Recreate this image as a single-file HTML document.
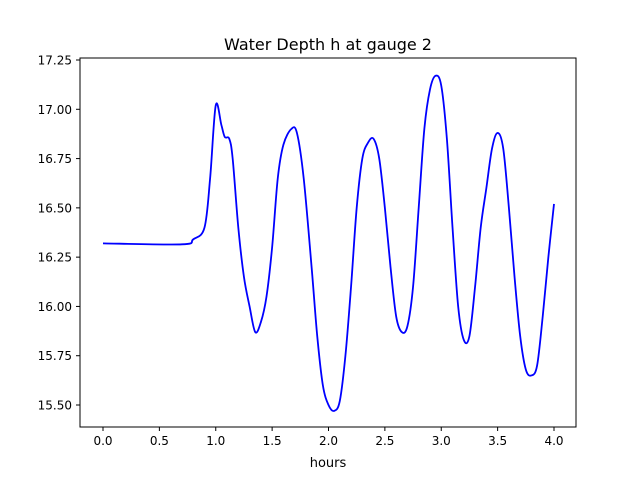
<!DOCTYPE html>
<html><head><meta charset="utf-8"><style>
body{margin:0;background:#fff;font-family:"Liberation Sans","DejaVu Sans",sans-serif;}
svg text{font-family:"DejaVu Sans","Liberation Sans",sans-serif;}
</style></head><body>
<svg id="chart" width="640" height="480" xmlns="http://www.w3.org/2000/svg">
<rect width="640" height="480" fill="#fff"/>
<text x="328" y="50" font-size="16" text-anchor="middle">Water Depth h at gauge 2</text>
<g id="ticks"></g>
<path id="line" fill="none" stroke="#0000ff" stroke-width="1.8" stroke-linejoin="round"/>
<rect x="80" y="58" width="496" height="369" fill="none" stroke="#000" stroke-width="1"/>
<text x="328" y="467" font-size="13" text-anchor="middle">hours</text>
</svg>
<script>
const hours=[0,0.7,0.8,0.9,0.95,1.0,1.05,1.08,1.12,1.15,1.2,1.25,1.3,1.35,1.4,1.45,1.5,1.55,1.6,1.67,1.72,1.78,1.85,1.9,1.95,2.0,2.05,2.1,2.15,2.2,2.25,2.3,2.35,2.4,2.45,2.5,2.55,2.6,2.65,2.7,2.75,2.8,2.85,2.9,2.95,3.0,3.05,3.1,3.15,3.2,3.25,3.3,3.35,3.4,3.45,3.5,3.55,3.6,3.65,3.7,3.75,3.8,3.85,3.9,3.95,4.0];
const depth=[16.32,16.315,16.34,16.40,16.65,17.02,16.92,16.86,16.85,16.75,16.4,16.15,16.0,15.87,15.92,16.05,16.3,16.65,16.82,16.9,16.88,16.65,16.2,15.85,15.6,15.5,15.47,15.52,15.75,16.1,16.5,16.75,16.83,16.85,16.75,16.5,16.2,15.95,15.87,15.9,16.1,16.5,16.9,17.1,17.17,17.12,16.85,16.4,16.0,15.83,15.85,16.1,16.4,16.6,16.8,16.88,16.8,16.5,16.15,15.85,15.68,15.65,15.7,15.95,16.25,16.52];
const xTicks=[0,0.5,1,1.5,2,2.5,3,3.5,4];
const xTickLabels=["0.0","0.5","1.0","1.5","2.0","2.5","3.0","3.5","4.0"];
const yTicks=[15.5,15.75,16,16.25,16.5,16.75,17,17.25];
const yTickLabels=["15.50","15.75","16.00","16.25","16.50","16.75","17.00","17.25"];
const X=v=>103+v*112.75;
const Y=v=>405-(v-15.5)*197.14;
const ns="http://www.w3.org/2000/svg";
const g=document.getElementById('ticks');
xTicks.forEach((t,i)=>{
 const l=document.createElementNS(ns,'line');
 
 
 l.setAttribute('x1',X(t));l.setAttribute('x2',X(t));l.setAttribute('y1',427);l.setAttribute('y2',431);l.setAttribute('stroke','#000');
 g.appendChild(l);
 const tx=document.createElementNS(ns,'text');
 
 
 tx.setAttribute('x',X(t));tx.setAttribute('y',445);tx.setAttribute('font-size','12');tx.setAttribute('text-anchor','middle');
 tx.textContent=xTickLabels[i];g.appendChild(tx);
});
yTicks.forEach((t,i)=>{
 const l=document.createElementNS(ns,'line');
 
 
 l.setAttribute('x1',76);l.setAttribute('x2',80);l.setAttribute('y1',Y(t));l.setAttribute('y2',Y(t));l.setAttribute('stroke','#000');
 g.appendChild(l);
 const tx=document.createElementNS(ns,'text');
 
 
 tx.setAttribute('x',72);tx.setAttribute('y',Y(t)+4.5);tx.setAttribute('font-size','12');tx.setAttribute('text-anchor','end');
 tx.textContent=yTickLabels[i];g.appendChild(tx);
});
// Catmull-Rom smooth path
const pts=hours.map((h,i)=>[X(h),Y(depth[i])]);
let d='M'+pts[0][0]+','+pts[0][1];
for(let i=0;i<pts.length-1;i++){
 const p0=pts[i-1]||pts[i],p1=pts[i],p2=pts[i+1],p3=pts[i+2]||p2;
 const c1=[p1[0]+(p2[0]-p0[0])/6,p1[1]+(p2[1]-p0[1])/6];
 const c2=[p2[0]-(p3[0]-p1[0])/6,p2[1]-(p3[1]-p1[1])/6];
 d+=` C${c1[0]},${c1[1]} ${c2[0]},${c2[1]} ${p2[0]},${p2[1]}`;
}
document.getElementById('line').setAttribute('d',d);
</script>
</body></html>
